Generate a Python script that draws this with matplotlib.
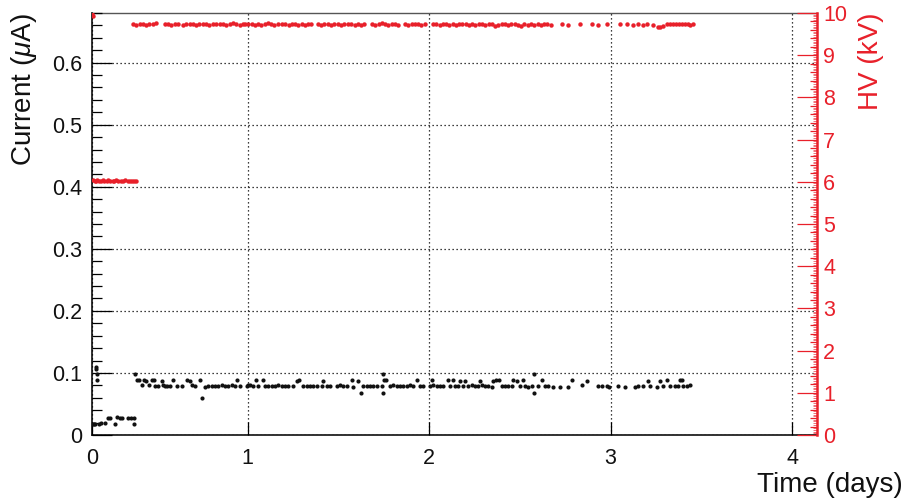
import numpy as np
import matplotlib
matplotlib.use("Agg")
import matplotlib.pyplot as plt
from matplotlib.ticker import MultipleLocator, FixedLocator, FuncFormatter

plt.rcParams['font.family'] = ['Liberation Sans', 'DejaVu Sans']
plt.rcParams['mathtext.fontset'] = 'custom'
plt.rcParams['mathtext.rm'] = 'Liberation Sans'
plt.rcParams['mathtext.it'] = 'Liberation Sans:italic'

# ---------------- data ----------------
# Current (uA) vs time (days)
cur_days = [
    0.145, 0.153, 0.160, 0.165, 0.166, 0.167, 0.170, 0.178, 0.190, 0.212,
    0.230, 0.243, 0.268, 0.280, 0.296, 0.308, 0.340, 0.358, 0.372, 0.373,
    0.379, 0.388, 0.403, 0.416, 0.429, 0.440, 0.458, 0.471, 0.484, 0.489,
    0.507, 0.526, 0.532, 0.544, 0.557, 0.572, 0.590, 0.612, 0.636, 0.667,
    0.682, 0.691, 0.709, 0.737, 0.746, 0.765, 0.783, 0.801, 0.820, 0.838,
    0.857, 0.875, 0.893, 0.912, 0.930, 0.939, 0.958, 0.994, 1.003, 1.013,
    1.031, 1.046, 1.058, 1.083, 1.095, 1.113, 1.132, 1.150, 1.169, 1.187,
    1.206, 1.224, 1.251, 1.270, 1.284, 1.306, 1.325, 1.343, 1.361, 1.380,
    1.408, 1.417, 1.435, 1.453, 1.490, 1.509, 1.527, 1.545, 1.573, 1.582,
    1.609, 1.623, 1.637, 1.656, 1.674, 1.692, 1.711, 1.738, 1.744, 1.747,
    1.751, 1.762, 1.784, 1.802, 1.821, 1.839, 1.857, 1.876, 1.894, 1.912,
    1.934, 1.949, 1.967, 2.004, 2.013, 2.023, 2.041, 2.059, 2.078, 2.105,
    2.115, 2.133, 2.142, 2.161, 2.170, 2.188, 2.197, 2.216, 2.234, 2.253,
    2.271, 2.280, 2.289, 2.307, 2.326, 2.344, 2.353, 2.368, 2.386, 2.399,
    2.418, 2.436, 2.455, 2.463, 2.482, 2.500, 2.515, 2.528, 2.546, 2.565,
    2.577, 2.579, 2.601, 2.620, 2.638, 2.656, 2.684, 2.721, 2.766, 2.785,
    2.840, 2.868, 2.932, 2.950, 2.978, 2.992, 3.042, 3.079, 3.134, 3.152,
    3.180, 3.207, 3.216, 3.253, 3.272, 3.290, 3.312, 3.327, 3.354, 3.372,
    3.382, 3.391, 3.400, 3.419, 3.437,
]
cur_uA = [
    0.018, 0.018, 0.018, 0.110, 0.107, 0.098, 0.088, 0.018, 0.019, 0.020,
    0.028, 0.028, 0.018, 0.029, 0.027, 0.028, 0.027, 0.028, 0.028, 0.018,
    0.098, 0.088, 0.088, 0.080, 0.089, 0.087, 0.080, 0.088, 0.088, 0.079,
    0.079, 0.087, 0.080, 0.079, 0.079, 0.079, 0.089, 0.079, 0.079, 0.089,
    0.087, 0.080, 0.079, 0.089, 0.059, 0.078, 0.079, 0.079, 0.079, 0.079,
    0.080, 0.079, 0.079, 0.080, 0.079, 0.088, 0.079, 0.079, 0.080, 0.081,
    0.079, 0.088, 0.079, 0.089, 0.079, 0.079, 0.079, 0.079, 0.080, 0.079,
    0.079, 0.079, 0.079, 0.087, 0.088, 0.079, 0.079, 0.079, 0.079, 0.079,
    0.079, 0.087, 0.079, 0.079, 0.079, 0.080, 0.079, 0.079, 0.089, 0.078,
    0.087, 0.067, 0.079, 0.079, 0.079, 0.079, 0.079, 0.079, 0.067, 0.098,
    0.088, 0.088, 0.079, 0.080, 0.079, 0.079, 0.079, 0.079, 0.080, 0.079,
    0.088, 0.079, 0.079, 0.079, 0.088, 0.080, 0.079, 0.079, 0.079, 0.088,
    0.079, 0.088, 0.079, 0.079, 0.087, 0.079, 0.087, 0.079, 0.080, 0.079,
    0.079, 0.087, 0.080, 0.079, 0.079, 0.078, 0.087, 0.088, 0.088, 0.079,
    0.079, 0.079, 0.079, 0.088, 0.087, 0.079, 0.088, 0.079, 0.078, 0.079,
    0.099, 0.067, 0.079, 0.088, 0.079, 0.079, 0.078, 0.078, 0.078, 0.089,
    0.080, 0.087, 0.079, 0.079, 0.079, 0.078, 0.079, 0.078, 0.078, 0.079,
    0.079, 0.087, 0.079, 0.078, 0.087, 0.079, 0.089, 0.079, 0.079, 0.079,
    0.088, 0.088, 0.079, 0.079, 0.080,
]

# HV (kV) vs time (days)
hv_days = [
    0.142, 0.146,
    0.148, 0.156, 0.164, 0.172, 0.180, 0.190, 0.200, 0.210, 0.222, 0.232,
    0.243, 0.255, 0.265, 0.276, 0.288, 0.300, 0.312, 0.325, 0.338, 0.350,
    0.362, 0.375, 0.383,
    0.368, 0.386, 0.404, 0.422, 0.440, 0.458, 0.476, 0.494,
    0.544, 0.562, 0.580, 0.598, 0.616,
    0.644, 0.662, 0.680, 0.698, 0.716, 0.734, 0.752, 0.770, 0.788, 0.806, 0.824,
    0.847, 0.865, 0.883, 0.901, 0.919, 0.937, 0.955, 0.973,
    0.985, 1.003, 1.021, 1.039, 1.057, 1.075, 1.093, 1.111, 1.129, 1.147, 1.165,
    1.189, 1.207, 1.225, 1.243, 1.261, 1.279, 1.297, 1.315, 1.333, 1.351,
    1.387, 1.405, 1.423, 1.441, 1.459, 1.477, 1.495, 1.513, 1.531,
    1.553, 1.571, 1.589, 1.607, 1.625, 1.643,
    1.685, 1.703, 1.721, 1.739, 1.757, 1.775, 1.793, 1.811, 1.829,
    1.867, 1.885, 1.903, 1.921, 1.939, 1.957, 1.975,
    2.021, 2.039, 2.057, 2.075, 2.093, 2.111, 2.129, 2.147, 2.165, 2.183,
    2.201, 2.219, 2.237, 2.255, 2.273, 2.291, 2.309, 2.327, 2.345, 2.363,
    2.381, 2.399, 2.417, 2.435, 2.453, 2.471, 2.489, 2.507, 2.525, 2.543,
    2.561, 2.579, 2.597, 2.615, 2.633, 2.651, 2.669,
    2.732, 2.765, 2.831, 2.897, 2.930, 2.980, 3.051, 3.090, 3.123, 3.150,
    3.178, 3.200, 3.233, 3.261, 3.272, 3.288, 3.310, 3.327, 3.343, 3.360,
    3.377, 3.393, 3.410, 3.426, 3.437, 3.453,
]
hv_kV = [
    9.97, 9.92,
    6.05, 6.02, 6.03, 6.04, 6.02, 6.03, 6.05, 6.02, 6.03, 6.04,
    6.02, 6.03, 6.02, 6.04, 6.03, 6.02, 6.03, 6.04, 6.02, 6.03,
    6.02, 6.03, 6.01,
    9.74, 9.72, 9.75, 9.73, 9.71, 9.74, 9.73, 9.76,
    9.73, 9.75, 9.72, 9.74, 9.73,
    9.72, 9.74, 9.75, 9.73, 9.71, 9.74, 9.73, 9.75, 9.72, 9.74, 9.73,
    9.75, 9.73, 9.72, 9.74, 9.76, 9.73, 9.72, 9.74,
    9.73, 9.75, 9.74, 9.72, 9.73, 9.71, 9.74, 9.76, 9.73, 9.72, 9.74,
    9.73, 9.75, 9.72, 9.74, 9.73, 9.71, 9.74, 9.72, 9.75, 9.73,
    9.74, 9.72, 9.73, 9.75, 9.71, 9.73, 9.74, 9.72, 9.73,
    9.74, 9.73, 9.71, 9.74, 9.72, 9.75,
    9.73, 9.72, 9.74, 9.76, 9.73, 9.71, 9.74, 9.73, 9.72,
    9.74, 9.72, 9.73, 9.75, 9.73, 9.71, 9.74,
    9.73, 9.74, 9.72, 9.75, 9.73, 9.71, 9.74, 9.72, 9.73, 9.75,
    9.74, 9.72, 9.73, 9.71, 9.74, 9.73, 9.72, 9.75, 9.73, 9.70,
    9.72, 9.74, 9.73, 9.71, 9.73, 9.74, 9.72, 9.70, 9.73, 9.72,
    9.74, 9.71, 9.73, 9.72, 9.74, 9.73, 9.72,
    9.73, 9.72, 9.73, 9.73, 9.71, 9.73, 9.74, 9.73, 9.72, 9.74,
    9.72, 9.73, 9.71, 9.68, 9.67, 9.70, 9.73, 9.74, 9.73, 9.74,
    9.73, 9.74, 9.73, 9.73, 9.72, 9.73,
]

x_tick_pos = [0.142, 1, 2, 3, 4]
x_tick_lab = ['0', '1', '2', '3', '4']
x_range = (0.142, 4.137)
cur_range = (0, 0.68)
hv_range = (0, 10)

RED = '#e8202a'
TICK_FS = 15.5

# ---------------- figure ----------------
W, H = 906, 499
fig = plt.figure(figsize=(W / 100, H / 100), dpi=100)
ax = fig.add_axes([92 / W, 1 - 435 / H, 725 / W, 422 / H])

ax.plot(cur_days, cur_uA, 'o', color='#111111', ms=3.0, mew=0, zorder=3)
ax.set_xlim(*x_range)
ax.set_ylim(*cur_range)

ax.xaxis.set_major_locator(FixedLocator(x_tick_pos))
ax.set_xticklabels(x_tick_lab)
ax.yaxis.set_major_locator(MultipleLocator(0.1))
ax.yaxis.set_minor_locator(MultipleLocator(0.02))
ax.yaxis.set_major_formatter(FuncFormatter(
    lambda v, p: '0' if abs(v) < 1e-9 else f'{v:.1f}'))
ax.tick_params(axis='y', which='major', direction='in', length=14.4, width=0.9,
               labelsize=TICK_FS, pad=7, right=False)
ax.tick_params(axis='y', which='minor', direction='in', length=7.2, width=0.9,
               right=False)
ax.tick_params(axis='x', which='major', direction='in', length=9.4, width=0.9,
               labelsize=TICK_FS, pad=9.5, top=False)
for lab in ax.get_xticklabels() + ax.get_yticklabels():
    lab.set_fontsize(TICK_FS)
    lab.set_color('#111111')

ax.grid(True, which='major', color='black', linestyle=(0, (1, 2.2)), linewidth=0.9)
ax.set_axisbelow(False)

for s in ('left', 'bottom'):
    ax.spines[s].set_linewidth(1.3)
    ax.spines[s].set_color('#222222')
ax.spines['top'].set_color('#555555')
ax.spines['top'].set_linewidth(1.0)
ax.spines['right'].set_visible(False)

# HV axis
axh = ax.twinx()
axh.plot(hv_days, hv_kV, 'o', color=RED, ms=3.2, mew=0, zorder=3)
axh.set_ylim(*hv_range)
axh.yaxis.set_major_locator(MultipleLocator(1))
axh.yaxis.set_minor_locator(MultipleLocator(0.2))
axh.tick_params(axis='y', which='major', direction='in', length=14.4, width=0.9,
                colors=RED, labelsize=TICK_FS, pad=4.5)
axh.tick_params(axis='y', which='minor', direction='in', length=5.0, width=0.9,
                colors=RED)
for s in ('left', 'top', 'bottom'):
    axh.spines[s].set_visible(False)
axh.spines['right'].set_color(RED)
axh.spines['right'].set_linewidth(1.8)

sec = axh.secondary_yaxis('right')
sec.yaxis.set_major_locator(MultipleLocator(0.04))
sec.tick_params(axis='y', which='major', direction='in', length=2.6, width=0.7,
                colors='#f07078', labelright=False)
sec.tick_params(axis='y', which='minor', length=0)
sec.spines['right'].set_visible(False)

# titles
fig.text(24 / W, 1 - 13 / H, 'Current ($\\mathit{\\mu}$A)', rotation=90,
         ha='center', va='top', fontsize=20, color='#111111')
fig.text(871 / W, 1 - 13 / H, 'HV (kV)', rotation=90, ha='center', va='top',
         fontsize=20, color=RED)
fig.text(903 / W, 1 - 492 / H, 'Time (days)', ha='right', va='baseline',
         fontsize=20, color='#111111')

fig.savefig('out.png', dpi=100)
